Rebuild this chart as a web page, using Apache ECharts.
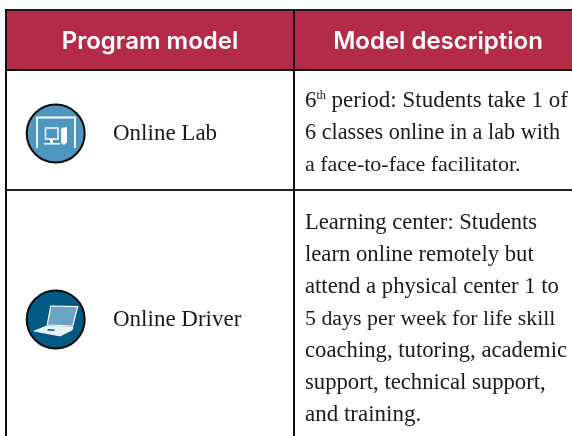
<!DOCTYPE html>
<html><head><meta charset="utf-8">
<style>html,body{margin:0;padding:0;background:#fff}#c{width:572px;height:436px}</style>
<script src="https://cdn.jsdelivr.net/npm/echarts@6/dist/echarts.min.js"></script>
</head><body><div id="c"></div>
<script>
const headers = ['Program model', 'Model description'];
const models = ['Online Lab', 'Online Driver'];
const row1Lines = ['{n|6}{s|th}{n| period: Students take 1 of}', '6 classes online in a lab with', 'a face-to-face facilitator.'];
const row2Lines = ['Learning center: Students', 'learn online remotely but', 'attend a physical center 1 to', '5 days per week for life skill', 'coaching, tutoring, academic', 'support, technical support,', 'and training.'];
const row1Sizes = [23, 22.2, 22];
const row2Sizes = [22.6, 22.7, 22.7, 21.9, 22.7, 22.7, 23];

const SERIF = '"Liberation Serif", serif';
const SANS = 'Inter, sans-serif';
const body = {fontFamily: SERIF, fill: '#1a1a1a'};
const g = [];
const rect = (x, y, w, h, fill) => g.push({type: 'rect', shape: {x, y, width: w, height: h}, style: {fill}, silent: true});
const poly = (points, style) => g.push({type: 'polygon', shape: {points}, style, silent: true});

rect(6, 11, 566, 59, '#b32b49');
rect(5, 9, 567, 2, '#1a1a1a');
rect(5, 69, 567, 2, '#111');
rect(5, 189, 567, 2, '#222');
rect(5, 9, 2, 427, '#111');
rect(293, 9, 2, 427, '#111');

headers.forEach((t, i) => g.push({type: 'text', x: [150, 438][i], y: 41.5, silent: true,
  style: {text: t, fontFamily: SANS, fontWeight: 600, fontSize: 24, fill: '#fff', align: 'center', verticalAlign: 'middle'}}));
models.forEach((t, i) => g.push({type: 'text', x: 113, y: [134, 320][i], silent: true,
  style: {...body, fontSize: 23, text: t, verticalAlign: 'middle'}}));
row1Lines.forEach((t, i) => g.push({type: 'text', x: 305, y: 101 + i * 32, silent: true,
  style: {...body, fontSize: row1Sizes[i], text: t, verticalAlign: 'middle',
    rich: {n: {fontFamily: SERIF, fontSize: row1Sizes[i], fill: '#1a1a1a'}, s: {fontFamily: SERIF, fontSize: 12, fill: '#1a1a1a', verticalAlign: 'top', padding: [0, 0, 8, 0]}}}}));
row2Lines.forEach((t, i) => g.push({type: 'text', x: 305, y: 223 + i * 32, silent: true,
  style: {...body, fontSize: row2Sizes[i], text: t, verticalAlign: 'middle'}}));

// Online Lab icon
g.push({type: 'circle', shape: {cx: 55.7, cy: 133.5, r: 29}, style: {fill: '#4d96bf', stroke: '#0a0a0a', lineWidth: 2}, silent: true});
g.push({type: 'polyline', shape: {points: [[37, 148], [37, 117.5], [75, 117.5], [75, 148]]}, style: {fill: null, stroke: '#fff', lineWidth: 1.8}, silent: true});
g.push({type: 'rect', shape: {x: 45.5, y: 128, width: 12.5, height: 11}, style: {fill: null, stroke: '#fff', lineWidth: 1.5}, silent: true});
rect(50, 139, 3, 4, '#fff');
rect(44, 143, 16, 1.6, '#fff');
poly([[61, 128], [67, 127], [67, 142], [64, 145], [61, 143]], {fill: '#fff'});

// Online Driver icon
g.push({type: 'circle', shape: {cx: 55.7, cy: 319.5, r: 29}, style: {fill: '#005a84', stroke: '#0a0a0a', lineWidth: 2}, silent: true});
poly([[50.7, 306], [77.7, 306.7], [72.7, 326], [47.3, 325]], {fill: '#6aa3c4', stroke: '#fff', lineWidth: 1.2});
poly([[47, 326], [73, 327], [72, 330], [60, 336], [34, 331]], {fill: '#e8f0f4', stroke: '#fff', lineWidth: 0.8});
poly([[48, 329], [55, 329.5], [54, 331], [47, 330.5]], {fill: '#005a84'});

const chart = echarts.init(document.getElementById('c'), null, {renderer: 'canvas'});
chart.setOption({animation: false, backgroundColor: '#fff', graphic: {elements: g}});
</script></body></html>
